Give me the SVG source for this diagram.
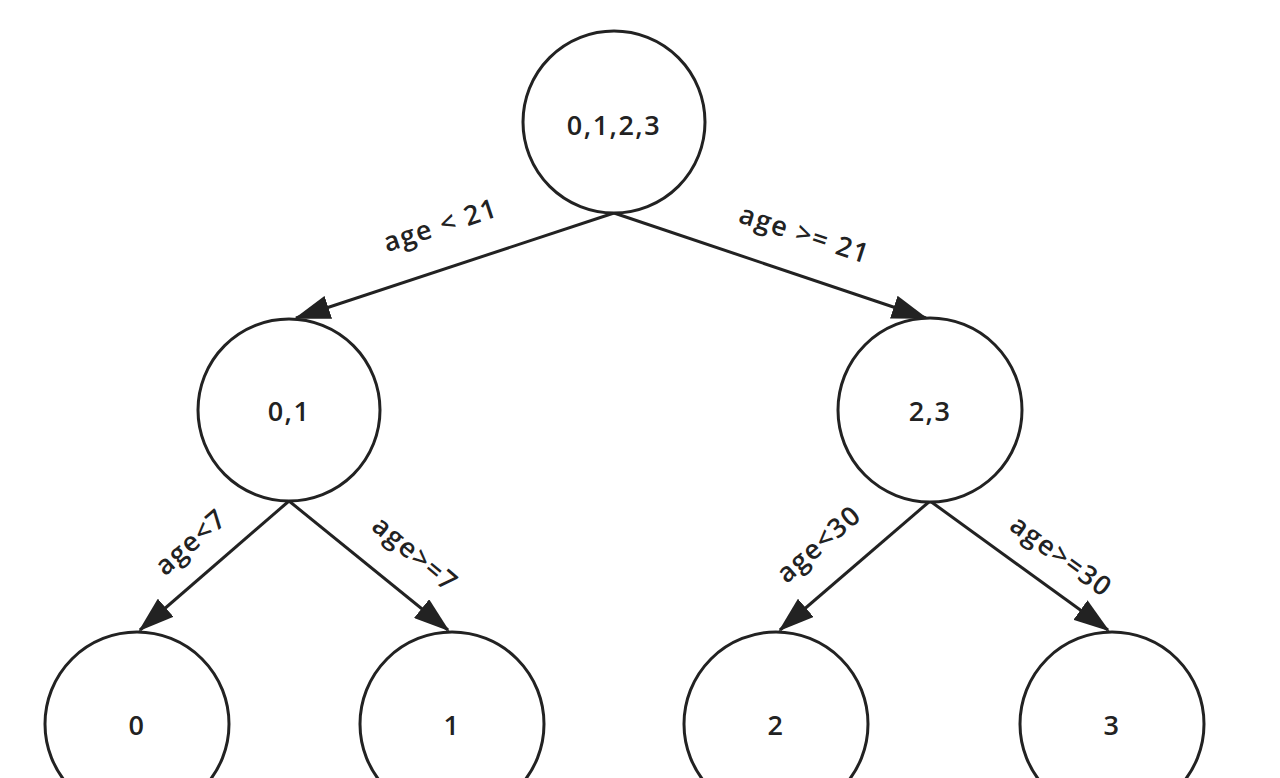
<svg xmlns="http://www.w3.org/2000/svg" width="1280" height="778" viewBox="0 0 1280 778">
<style>
.n{fill:#fff;stroke:#222;stroke-width:3}
.t{font-family:"Open Sans",sans-serif;font-size:27px;font-weight:600;letter-spacing:1.5px;fill:#222;text-anchor:middle;dominant-baseline:central}
.e{stroke:#222;stroke-width:3;fill:none;marker-end:url(#b)}
</style>
<defs>
<marker id="b" viewBox="0 0 36 24" refX="34" refY="12" markerWidth="36" markerHeight="24" orient="auto" markerUnits="userSpaceOnUse"><path d="M0,0 L36,12 L0,24 z" fill="#222"/></marker></defs>
<rect width="1280" height="778" fill="#fff"/>
<g id="connectors">
<line class="e" x1="614" y1="213" x2="296" y2="318"/>
<line class="e" x1="614" y1="213" x2="926" y2="318"/>
<line class="e" x1="289" y1="501" x2="140" y2="630"/>
<line class="e" x1="289" y1="501" x2="448" y2="630"/>
<line class="e" x1="930" y1="501" x2="780" y2="630"/>
<line class="e" x1="930" y1="501" x2="1108" y2="630"/>
<text class="t" transform="translate(440,224) rotate(-18)">age &lt; 21</text>
<text class="t" transform="translate(805,233) rotate(18)">age &gt;= 21</text>
<text class="t" transform="translate(190,541) rotate(-41)">age&lt;7</text>
<text class="t" transform="translate(416,553) rotate(40)">age&gt;=7</text>
<text class="t" transform="translate(818,543) rotate(-41)">age&lt;30</text>
<text class="t" transform="translate(1062,555) rotate(36)">age&gt;=30</text>
</g>
<g id="root"><circle class="n" cx="614" cy="122" r="91"/><text class="t" x="614" y="124">0,1,2,3</text></g>
<g id="n01"><circle class="n" cx="289" cy="410" r="91"/><text class="t" x="289" y="410">0,1</text></g>
<g id="n23"><circle class="n" cx="930" cy="410" r="92"/><text class="t" x="930" y="410">2,3</text></g>
<g id="n0"><circle class="n" cx="137" cy="724" r="92"/><text class="t" x="137" y="724">0</text></g>
<g id="n1"><circle class="n" cx="452" cy="724" r="92"/><text class="t" x="452" y="724">1</text></g>
<g id="n2"><circle class="n" cx="776" cy="724" r="92"/><text class="t" x="776" y="724">2</text></g>
<g id="n3"><circle class="n" cx="1112" cy="724" r="92"/><text class="t" x="1112" y="724">3</text></g>
</svg>
